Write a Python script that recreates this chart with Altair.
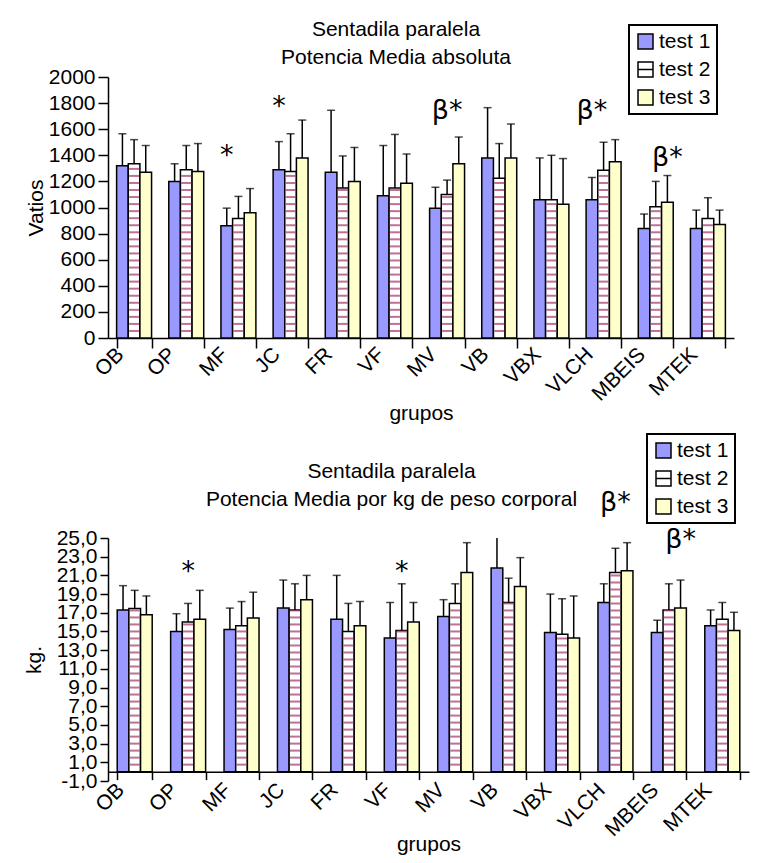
import altair as alt
import pandas as pd

FONT = "Liberation Sans"
FONT_MARCA = "DejaVu Sans"

grupos = ["OB", "OP", "MF", "JC", "FR", "VF", "MV", "VB", "VBX", "VLCH", "MBEIS", "MTEK"]
tests = ["test 1", "test 2", "test 3"]
colores = ["#9999FF", "#FFFFFF", "#FFFFCC"]
color_franja = "#A3336B"

# Potencia media absoluta (vatios): media y desviación típica de cada test
abs_media_t1 = [1320, 1200, 860, 1290, 1270, 1090, 995, 1380, 1060, 1060, 840, 840]
abs_media_t2 = [1335, 1290, 915, 1275, 1150, 1150, 1100, 1225, 1060, 1285, 1005, 915]
abs_media_t3 = [1270, 1275, 960, 1380, 1200, 1185, 1335, 1380, 1025, 1350, 1040, 870]
abs_sd_t1 = [245, 135, 135, 215, 475, 385, 160, 385, 320, 170, 110, 140]
abs_sd_t2 = [185, 185, 170, 290, 245, 410, 110, 265, 340, 215, 195, 160]
abs_sd_t3 = [205, 215, 185, 290, 260, 225, 205, 260, 350, 170, 205, 110]

# Potencia media por kg de peso corporal
kg_media_t1 = [17.3, 15.0, 15.2, 17.5, 16.3, 14.3, 16.6, 21.8, 14.9, 18.1, 14.9, 15.6]
kg_media_t2 = [17.45, 16.0, 15.6, 17.3, 15.0, 15.1, 18.0, 18.1, 14.7, 21.3, 17.3, 16.3]
kg_media_t3 = [16.8, 16.3, 16.45, 18.4, 15.6, 16.0, 21.3, 19.8, 14.3, 21.5, 17.5, 15.1]
kg_sd_t1 = [2.6, 1.9, 2.3, 3.0, 4.7, 3.8, 1.8, 3.5, 4.1, 2.0, 1.3, 1.7]
kg_sd_t2 = [1.95, 2.0, 2.6, 2.8, 3.0, 5.0, 2.1, 2.6, 3.8, 2.6, 2.8, 1.8]
kg_sd_t3 = [2.0, 3.1, 2.75, 2.6, 2.6, 2.1, 3.2, 3.1, 4.5, 3.0, 3.0, 1.95]

# Marcas de significación
abs_marca_grupo = ["MF", "JC", "MV", "VLCH", "MBEIS"]
abs_marca_test = ["test 1", "test 1", "test 2", "test 1", "test 3"]
abs_marca_valor = [1330, 1710, 1680, 1680, 1320]
abs_marca_texto = ["*", "*", "β*", "β*", "β*"]

kg_marca_grupo = ["OP", "VF", "VLCH", "MBEIS"]
kg_marca_test = ["test 2", "test 2", "test 2", "test 3"]
kg_marca_valor = [20.5, 20.5, 27.9, 23.9]
kg_marca_texto = ["*", "*", "β*", "β*"]

CUADRO = "M-1,-1H1V1H-1Z"
CUADRO_FRANJA = "M-1,-1H1V1H-1Z M-1,0H1"


def tabla(medias, sds):
    filas = []
    for t, m, s in zip(tests, medias, sds):
        for g, v, e in zip(grupos, m, s):
            filas.append({"grupo": g, "test": t, "media": v, "sd": e})
    return pd.DataFrame(filas)


def marcas(g, t, v, txt):
    return pd.DataFrame({"grupo": g, "test": t, "valor": v, "texto": txt})


def panel(df, anot, width, height, pad, y_dom, y_vals, y_fmt_expr, y_title, y_tick,
          y_title_x, x_offset, x_tick, x_lab_pad, x_title_y, franja_paso, titulo, t_dx,
          t_offset, leg_x, leg_y, recorte):
    x = alt.X("grupo:N", sort=grupos, title="grupos",
              scale=alt.Scale(paddingInner=pad, paddingOuter=pad / 2),
              axis=alt.Axis(labelAngle=-45, labelAlign="right", labelBaseline="middle",
                            labelOffset=-14, labelPadding=x_lab_pad, tickBand="extent",
                            tickSize=x_tick, offset=x_offset, labelOverlap=False,
                            titleY=x_title_y, titleBaseline="alphabetic"))
    xo = alt.XOffset("test:N", sort=tests, scale=alt.Scale(paddingInner=0, paddingOuter=0))
    yscale = alt.Scale(domain=y_dom, nice=False, zero=False)
    yaxis = alt.Axis(values=y_vals, labelExpr=y_fmt_expr, tickSize=y_tick,
                     labelPadding=3, labelOverlap=False, titleX=y_title_x,
                     titleBaseline="alphabetic")

    def Y(campo):
        return alt.Y(campo, title=y_title, scale=yscale, axis=yaxis)

    color_leg = alt.Color("test:N", sort=tests,
                          scale=alt.Scale(domain=tests, range=colores),
                          legend=alt.Legend(title=None, orient="none", legendX=leg_x,
                                            legendY=leg_y))
    forma_leg = alt.Shape("test:N", sort=tests,
                          scale=alt.Scale(domain=tests, range=[CUADRO, CUADRO_FRANJA, CUADRO]),
                          legend=alt.Legend(title=None, orient="none", legendX=leg_x,
                                            legendY=leg_y))

    base = alt.Chart(df)

    # puntos ocultos tras las barras: sólo generan la leyenda
    leyenda = base.transform_calculate(mitad="datum.media / 2").mark_point(
        filled=True, size=20, stroke="black", strokeWidth=1.5, opacity=1
    ).encode(x=x, xOffset=xo, y=Y("mitad:Q"), color=color_leg, shape=forma_leg)

    barras = base.mark_bar(stroke="black", strokeWidth=1.5).encode(
        x=x, xOffset=xo, y=Y("media:Q"),
        color=alt.Color("test:N", sort=tests, scale=alt.Scale(domain=tests, range=colores),
                        legend=None))

    franjas = base.transform_filter(alt.datum.test == "test 2").transform_calculate(
        franja=f"sequence({franja_paso}, datum.media, {franja_paso})"
    ).transform_flatten(["franja"]).mark_tick(
        orient="horizontal", size=10, thickness=2, color=color_franja
    ).encode(x=x, xOffset=xo, y=Y("franja:Q"))

    con_error = base.transform_calculate(sup="datum.media + datum.sd")
    barra_error = con_error.mark_rule(color="black", strokeWidth=1.5, clip=recorte).encode(
        x=x, xOffset=xo, y=Y("media:Q"), y2="sup:Q")
    tope = con_error.mark_tick(orient="horizontal", size=8, thickness=1.5, color="black",
                               clip=recorte).encode(x=x, xOffset=xo, y=Y("sup:Q"))

    texto = alt.Chart(anot).mark_text(font=FONT_MARCA, fontSize=27, baseline="alphabetic",
                                      align="center", color="black").encode(
        x=x, xOffset=xo, y=Y("valor:Q"), text="texto:N")

    return alt.layer(leyenda, barras, franjas, barra_error, tope, texto).properties(
        width=width, height=height,
        title=alt.TitleParams(titulo, font=FONT, fontSize=21, fontWeight="normal",
                              color="black", anchor="middle", dx=t_dx, offset=t_offset,
                              lineHeight=28))


arriba = panel(
    tabla([abs_media_t1, abs_media_t2, abs_media_t3], [abs_sd_t1, abs_sd_t2, abs_sd_t3]),
    marcas(abs_marca_grupo, abs_marca_test, abs_marca_valor, abs_marca_texto),
    width=626, height=261, pad=0.33, y_dom=[0, 2000], y_vals=list(range(0, 2001, 200)),
    y_fmt_expr="format(datum.value, 'd')", y_title="Vatios", y_tick=10, y_title_x=-66,
    x_offset=0, x_tick=10, x_lab_pad=3, x_title_y=81, franja_paso=54,
    titulo=["Sentadila paralela", "Potencia Media absoluta"], t_dx=-25, t_offset=-44,
    leg_x=521, leg_y=-52, recorte=False)

abajo = panel(
    tabla([kg_media_t1, kg_media_t2, kg_media_t3], [kg_sd_t1, kg_sd_t2, kg_sd_t3]),
    marcas(kg_marca_grupo, kg_marca_test, kg_marca_valor, kg_marca_texto),
    width=641, height=243, pad=0.345, y_dom=[-1, 25], y_vals=list(range(-1, 26, 2)),
    y_fmt_expr="(datum.value < 0 ? '-' : '') + replace(format(abs(datum.value), '.1f'), '.', ',')",
    y_title="kg.", y_tick=8,
    y_title_x=-68, x_offset=-9.35, x_tick=8, x_lab_pad=7, x_title_y=79, franja_paso=0.75,
    titulo=["Sentadila paralela", "Potencia Media por kg de peso corporal"], t_dx=-37,
    t_offset=-77, leg_x=539, leg_y=-104, recorte=True)

chart = alt.vconcat(arriba, abajo, spacing=200, bounds="flush").resolve_scale(
    color="independent", shape="independent", xOffset="independent"
).configure(
    padding={"left": 23, "top": 19, "right": 2, "bottom": 2}, background="white", font=FONT
).configure_view(stroke=None).configure_axis(
    grid=False, domainColor="black", domainWidth=1.5, tickColor="black", tickWidth=1.5,
    labelFont=FONT, labelFontSize=21, labelColor="black", titleFont=FONT, titleFontSize=21,
    titleFontWeight="normal", titleColor="black"
).configure_legend(
    labelFont=FONT, labelFontSize=21, labelColor="black", symbolSize=225,
    symbolStrokeColor="black", symbolStrokeWidth=1.5, strokeColor="black", strokeWidth=2,
    fillColor="white", padding=6, rowPadding=6, labelOffset=3
)

chart.save("out.html", embed_options={"renderer": "svg", "actions": False})
